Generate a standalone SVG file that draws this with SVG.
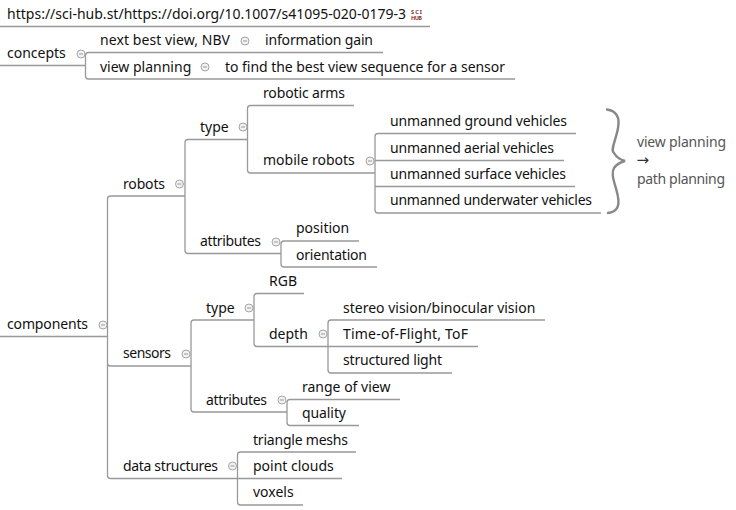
<svg xmlns="http://www.w3.org/2000/svg" width="736" height="510" viewBox="0 0 736 510">
<style>
text{font-family:"Noto Sans","Open Sans","Liberation Sans",sans-serif;font-size:14px;fill:#111}
.c{fill:none;stroke:#999;stroke-width:1.3}
.b{fill:none;stroke:#888;stroke-width:2.4;stroke-linecap:round}
.t{fill:#555}
.a{font-family:"DejaVu Sans",sans-serif;font-size:15px;fill:#333}
.i{font-size:5.5px;font-weight:700;fill:#8b2f2f}
.m circle{fill:#f2f2f2;stroke:#a5a5a5;stroke-width:1}
.m path{stroke:#999;stroke-width:1}
</style>
<defs><g id="col" class="m"><circle r="4"/><path d="M-2 0H2"/></g></defs>
<rect width="736" height="510" fill="#fff"/>
<g id="connectors">
<path class="c" d="M0 26.5H430"/>
<path class="c" d="M0 65.5H85.5M383 52.5H88.5Q85.5 52.5 85.5 55.5V76Q85.5 79 88.5 79H515"/>
<path class="c" d="M0 336.5H107.5M185 196H110.5Q107.5 196 107.5 199V475.5Q107.5 478.5 110.5 478.5H237.5M107.5 363Q107.5 366 110.5 366H191"/>
<path class="c" d="M247.5 139.5H188Q185 139.5 185 142.500V250.500Q185 253.500 188 253.500H281"/>
<path class="c" d="M354 105.500H250.500Q247.500 105.500 247.500 108.500V170Q247.500 173 250.500 173H375"/>
<path class="c" d="M576 133.500H378Q375 133.500 375 136.500V210Q375 213 378 213H601M375 160.500H564M375 186.500H575"/>
<path class="c" d="M359 241H284Q281 241 281 244V264Q281 267 284 267H377"/>
<path class="c" d="M254 320H194Q191 320 191 323V409Q191 412 194 412H287"/>
<path class="c" d="M304 293.500H257Q254 293.500 254 296.500V343.500Q254 346.500 257 346.500H328"/>
<path class="c" d="M545 320H331Q328 320 328 323V370Q328 373 331 373H452M328 346.500H478"/>
<path class="c" d="M400 399.500H290Q287 399.500 287 402.500V422.500Q287 425.500 290 425.500H359"/>
<path class="c" d="M356 452H240.500Q237.500 452 237.500 455V502Q237.500 505 240.500 505H303M237.500 478.500H342"/>
<path class="b" d="M607 109.500C617 111 620 118 618 128C616 140 610 150 614 153C617 158 621 160 625 161C621 162 617 164 614 168C610 175 616 185 618 197C620 207 616 212 608 213"/>
</g>
<g id="root"><text x="7" y="19" textLength="399">https://sci-hub.st/https://doi.org/10.1007/s41095-020-0179-3</text>
<g id="scihub-icon"><text class="i" x="411" y="13.500" textLength="11">SCI</text><text class="i" x="411" y="20" textLength="11">HUB</text></g></g>
<g id="concepts"><text x="7" y="58">concepts</text><use href="#col" x="81" y="54"/></g>
<g id="nbv"><text x="100" y="45" textLength="130">next best view, NBV</text><use href="#col" x="245" y="41"/></g>
<g id="info-gain"><text x="265" y="45" textLength="108">information gain</text></g>
<g id="view-planning"><text x="100" y="72">view planning</text><use href="#col" x="205" y="67"/></g>
<g id="to-find"><text x="225" y="72" textLength="280">to find the best view sequence for a sensor</text></g>
<g id="components"><text x="7" y="329" textLength="81">components</text><use href="#col" x="103" y="325"/></g>
<g id="robots"><text x="123" y="189" textLength="42">robots</text><use href="#col" x="179.500" y="184"/></g>
<g id="robots-type"><text x="200" y="132">type</text><use href="#col" x="243" y="127"/></g>
<g id="robotic-arms"><text x="263" y="98" textLength="82">robotic arms</text></g>
<g id="mobile-robots"><text x="263" y="165">mobile robots</text><use href="#col" x="370" y="161"/></g>
<g id="ugv"><text x="390" y="126" textLength="177">unmanned ground vehicles</text></g>
<g id="uav"><text x="390" y="153" textLength="164">unmanned aerial vehicles</text></g>
<g id="usv"><text x="390" y="179" textLength="176">unmanned surface vehicles</text></g>
<g id="uuv"><text x="390" y="205" textLength="202">unmanned underwater vehicles</text></g>
<g id="brace-label"><text class="t" x="637" y="147" textLength="89">view planning</text><text class="a" x="636.500" y="164.500">→</text><text class="t" x="637" y="184" textLength="88">path planning</text></g>
<g id="robots-attributes"><text x="200" y="246" textLength="61">attributes</text><use href="#col" x="276" y="242"/></g>
<g id="position"><text x="296" y="233">position</text></g>
<g id="orientation"><text x="296" y="260" textLength="71">orientation</text></g>
<g id="sensors"><text x="123" y="358" textLength="48">sensors</text><use href="#col" x="186" y="354"/></g>
<g id="sensors-type"><text x="206" y="313">type</text><use href="#col" x="249" y="308"/></g>
<g id="rgb"><text x="269" y="286">RGB</text></g>
<g id="depth"><text x="269" y="339">depth</text><use href="#col" x="323" y="334"/></g>
<g id="stereo"><text x="343" y="313">stereo vision/binocular vision</text></g>
<g id="tof"><text x="343" y="339" textLength="125">Time-of-Flight, ToF</text></g>
<g id="structured"><text x="343" y="365" textLength="99">structured light</text></g>
<g id="sensors-attributes"><text x="206" y="405" textLength="61">attributes</text><use href="#col" x="282" y="400"/></g>
<g id="range"><text x="302" y="392">range of view</text></g>
<g id="quality"><text x="302" y="418" textLength="44">quality</text></g>
<g id="data-structures"><text x="123" y="471" textLength="95">data structures</text><use href="#col" x="232.500" y="466"/></g>
<g id="meshes"><text x="253" y="445" textLength="95">triangle meshs</text></g>
<g id="clouds"><text x="253" y="471">point clouds</text></g>
<g id="voxels"><text x="253" y="497">voxels</text></g>
</svg>
